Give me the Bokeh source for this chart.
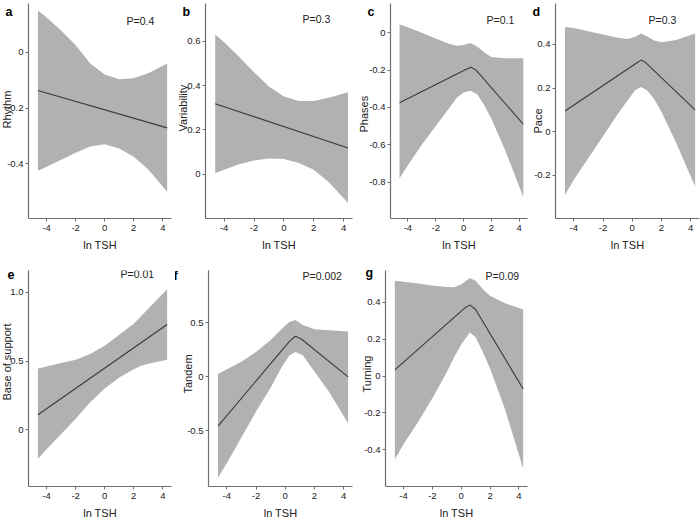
import math
from bokeh.plotting import figure
from bokeh.layouts import column, row
from bokeh.models import Range1d, FixedTicker, Label, Title
from bokeh.embed import file_html
from bokeh.resources import INLINE

# ---------------- data ----------------
x_ticks = [-4, -2, 0, 2, 4]
x_tick_labels = ["-4", "-2", "0", "2", "4"]
x_title = "ln TSH"
x_range = (-5.25, 4.6)

# a  Rhythm
a_band_x = [-4.6, -4, -3, -2, -1, 0, 1, 2, 3, 4.3]
a_upper = [0.15, 0.125, 0.078, 0.025, -0.04, -0.08, -0.097, -0.093, -0.075, -0.04]
a_lower = [-0.425, -0.41, -0.385, -0.36, -0.338, -0.33, -0.345, -0.375, -0.42, -0.5]
a_line_x = [-4.6, 4.3]
a_line_y = [-0.137, -0.271]
a_ticks = [-0.4, -0.2, 0]
a_tick_labels = ["-0.4", "-0.2", "0"]

# b  Variability
b_band_x = [-4.6, -4, -3, -2, -1, 0, 1, 2, 3, 4.3]
b_upper = [0.63, 0.595, 0.53, 0.46, 0.395, 0.35, 0.33, 0.33, 0.345, 0.37]
b_lower = [0.005, 0.02, 0.045, 0.062, 0.071, 0.068, 0.05, 0.02, -0.035, -0.13]
b_line_x = [-4.6, 4.3]
b_line_y = [0.318, 0.118]
b_ticks = [0, 0.2, 0.4, 0.6]
b_tick_labels = ["0", "0.2", "0.4", "0.6"]

# c  Phases
c_band_x = [-4.6, -4, -3, -2, -1, -0.5, 0, 0.5, 1, 1.5, 2, 3, 4.3]
c_upper = [0.045, 0.03, 0.0, -0.03, -0.06, -0.07, -0.065, -0.054, -0.075, -0.105, -0.13, -0.137, -0.137]
c_lower = [-0.78, -0.71, -0.6, -0.5, -0.4, -0.35, -0.32, -0.31, -0.33, -0.39, -0.46, -0.63, -0.88]
c_line_x = [-4.6, 0.2, 0.55, 0.9, 4.3]
c_line_y = [-0.375, -0.195, -0.185, -0.2, -0.49]
c_ticks = [-0.8, -0.6, -0.4, -0.2, 0]
c_tick_labels = ["-0.8", "-0.6", "-0.4", "-0.2", "0"]

# d  Pace
d_band_x = [-4.6, -4, -3, -2, -1, -0.3, 0.2, 0.6, 1, 1.5, 2, 3, 4.3]
d_upper = [0.48, 0.475, 0.46, 0.445, 0.43, 0.425, 0.435, 0.45, 0.437, 0.418, 0.41, 0.42, 0.45]
d_lower = [-0.29, -0.22, -0.12, -0.02, 0.08, 0.145, 0.19, 0.205, 0.19, 0.15, 0.09, -0.05, -0.25]
d_line_x = [-4.6, 0.3, 0.6, 0.9, 4.3]
d_line_y = [0.095, 0.315, 0.328, 0.318, 0.10]
d_ticks = [-0.2, 0, 0.2, 0.4]
d_tick_labels = ["-0.2", "0", "0.2", "0.4"]

# e  Base of support
e_band_x = [-4.6, -4, -3, -2, -1, 0, 1, 2, 2.5, 3, 4.3]
e_upper = [0.445, 0.46, 0.485, 0.51, 0.55, 0.61, 0.69, 0.77, 0.825, 0.88, 1.02]
e_lower = [-0.21, -0.14, -0.03, 0.08, 0.2, 0.3, 0.38, 0.44, 0.465, 0.48, 0.51]
e_line_x = [-4.6, 4.3]
e_line_y = [0.11, 0.765]
e_ticks = [0, 0.5, 1.0]
e_tick_labels = ["0", "0.5", "1.0"]

# f  Tandem
f_band_x = [-4.6, -4, -3, -2, -1, -0.2, 0.3, 0.7, 1.2, 2, 3, 4.3]
f_upper = [0.025, 0.07, 0.14, 0.23, 0.34, 0.45, 0.51, 0.525, 0.48, 0.44, 0.43, 0.42]
f_lower = [-0.93, -0.8, -0.56, -0.32, -0.1, 0.1, 0.2, 0.23, 0.2, 0.05, -0.14, -0.43]
f_line_x = [-4.6, 0.3, 0.7, 1.1, 4.3]
f_line_y = [-0.455, 0.33, 0.375, 0.35, 0.0]
f_ticks = [-0.5, 0, 0.5]
f_tick_labels = ["-0.5", "0", "0.5"]

# g  Turning
g_band_x = [-4.6, -4, -3, -2, -1, -0.5, 0, 0.6, 1, 1.5, 2, 3, 4.3]
g_upper = [0.515, 0.51, 0.5, 0.49, 0.482, 0.48, 0.495, 0.53, 0.515, 0.47, 0.435, 0.395, 0.36]
g_lower = [-0.45, -0.37, -0.25, -0.12, 0.02, 0.1, 0.17, 0.235, 0.21, 0.13, 0.04, -0.17, -0.5]
g_line_x = [-4.6, 0.2, 0.6, 1.0, 4.3]
g_line_y = [0.033, 0.365, 0.385, 0.36, -0.07]
g_ticks = [-0.4, -0.2, 0, 0.2, 0.4]
g_tick_labels = ["-0.4", "-0.2", "0", "0.2", "0.4"]

letters = ["a", "b", "c", "d", "e", "f", "g"]
y_titles = ["Rhythm", "Variability", "Phases", "Pace", "Base of support", "Tandem", "Turning"]
p_values = ["P=0.4", "P=0.3", "P=0.1", "P=0.3", "P=0.01", "P=0.002", "P=0.09"]
y_ranges = [(-0.596, 0.175), (-0.2, 0.77), (-0.995, 0.157), (-0.397, 0.587),
            (-0.411, 1.157), (-1.014, 0.983), (-0.598, 0.571)]

# ---------------- layout (pixel coordinates of the page) ----------------
ROWS = [(0, 260, 3, 218), (260, 521, 270, 488)]
LAYOUT = [
    # row, fig x0,x1, frame x0,x1, letter(x,ycenter), P(x,ycenter),
    # y-title: centre x, distance of its lower end above frame bottom, y-axis width
    (0, (0, 175), (28, 171), (5, 11), (126, 20), (8.3, 90, 21.4)),
    (0, (175, 355), (205, 352), (182, 11), (302, 18), (185, 87, 18.2)),
    (0, (355, 530), (390, 527), (367, 11), (486, 19), (365, 86, 21.4)),
    (0, (530, 700), (555, 699), (532, 11), (648, 19), (539, 85, 21.4)),
    (1, (0, 175), (28, 171), (7, 271), (120, 275), (8.3, 86, 18.2)),
    (1, (175, 355), (208, 352), (173, 275), (302, 277), (189, 93, 21.4)),
    (1, (355, 530), (385, 527), (365, 272), (485, 277), (368, 94, 21.4)),
]

FONT = "Liberation Sans"
BAND = "#b1b1b1"
LINE = "#3a3a3a"
AXIS = "#6e6e6e"
TEXT = "#222222"

series = [
    (a_band_x, a_upper, a_lower, a_line_x, a_line_y, a_ticks, a_tick_labels),
    (b_band_x, b_upper, b_lower, b_line_x, b_line_y, b_ticks, b_tick_labels),
    (c_band_x, c_upper, c_lower, c_line_x, c_line_y, c_ticks, c_tick_labels),
    (d_band_x, d_upper, d_lower, d_line_x, d_line_y, d_ticks, d_tick_labels),
    (e_band_x, e_upper, e_lower, e_line_x, e_line_y, e_ticks, e_tick_labels),
    (f_band_x, f_upper, f_lower, f_line_x, f_line_y, f_ticks, f_tick_labels),
    (g_band_x, g_upper, g_lower, g_line_x, g_line_y, g_ticks, g_tick_labels),
]


def make_panel(i):
    bx, up, lo, lx, ly, yt, ytl = series[i]
    r, (fx0, fx1), (frx0, frx1), let_pos, p_pos, (ytx, yt_off, ax_w) = LAYOUT[i]
    ry0, ry1, ftop, fbot = ROWS[r]
    yr = y_ranges[i]
    p = figure(width=fx1 - fx0, height=ry1 - ry0,
               output_backend="svg", toolbar_location=None,
               x_range=Range1d(*x_range), y_range=Range1d(*yr),
               min_border_left=frx0 - fx0, min_border_right=fx1 - frx1,
               min_border_top=ftop - ry0, min_border_bottom=ry1 - fbot)
    p.outline_line_color = None
    p.grid.visible = False
    p.background_fill_color = "white"
    p.border_fill_color = "white"

    p.varea(x=bx, y1=lo, y2=up, fill_color=BAND, fill_alpha=1.0)
    p.line(x=lx, y=ly, line_color=LINE, line_width=1.1)

    p.xaxis.ticker = FixedTicker(ticks=x_ticks)
    p.xaxis.major_label_overrides = {t: s for t, s in zip(x_ticks, x_tick_labels)}
    p.yaxis.ticker = FixedTicker(ticks=yt)
    p.yaxis.major_label_overrides = {t: s for t, s in zip(yt, ytl)}
    for ax in (p.xaxis[0], p.yaxis[0]):
        ax.axis_line_color = AXIS
        ax.axis_line_width = 1.2
        ax.major_tick_line_color = AXIS
        ax.major_tick_out = 3
        ax.major_tick_in = 0
        ax.minor_tick_line_color = None
        ax.major_label_text_font = FONT
        ax.major_label_text_font_size = "9.5px"
        ax.major_label_text_color = TEXT
        ax.major_label_standoff = 2
    p.xaxis.major_label_standoff = 3
    p.xaxis.axis_label = x_title
    p.xaxis.axis_label_text_font = FONT
    p.xaxis.axis_label_text_font_size = "11px"
    p.xaxis.axis_label_text_font_style = "normal"
    p.xaxis.axis_label_text_color = TEXT
    p.xaxis.axis_label_standoff = 5

    # y title: a title on the left side, pulled in over the tick labels
    target_right = ytx + 6.5
    y_title = Title(text=y_titles[i], align="left", vertical_align="bottom",
                    offset=yt_off,
                    standoff=int(round(2 * (frx0 - ax_w - target_right))),
                    text_font=FONT, text_font_size="11px", text_font_style="normal",
                    text_color=TEXT)
    p.add_layout(y_title, "left")

    # panel letter as the plot title, pulled left / down over the border
    text_h = 14
    sy_rel = let_pos[1] + text_h / 2 - ftop
    p.title.text = letters[i]
    p.title.align = "left"
    p.title.vertical_align = "bottom"
    p.title.offset = let_pos[0] - frx0
    p.title.standoff = int(round(-2 * sy_rel))
    p.title.text_font = FONT
    p.title.text_font_size = "12.5px"
    p.title.text_font_style = "bold"
    p.title.text_color = "black"

    p.add_layout(Label(x=x_range[0], y=yr[0], x_offset=p_pos[0] - frx0,
                       y_offset=fbot - p_pos[1], text=p_values[i],
                       text_font=FONT, text_font_size="10.5px", text_color=TEXT,
                       text_align="left", text_baseline="middle"))
    return p


panels = [make_panel(i) for i in range(7)]
layout = column(row(*panels[:4]), row(*panels[4:]))

open("out.html", "w").write(file_html(layout, INLINE))
